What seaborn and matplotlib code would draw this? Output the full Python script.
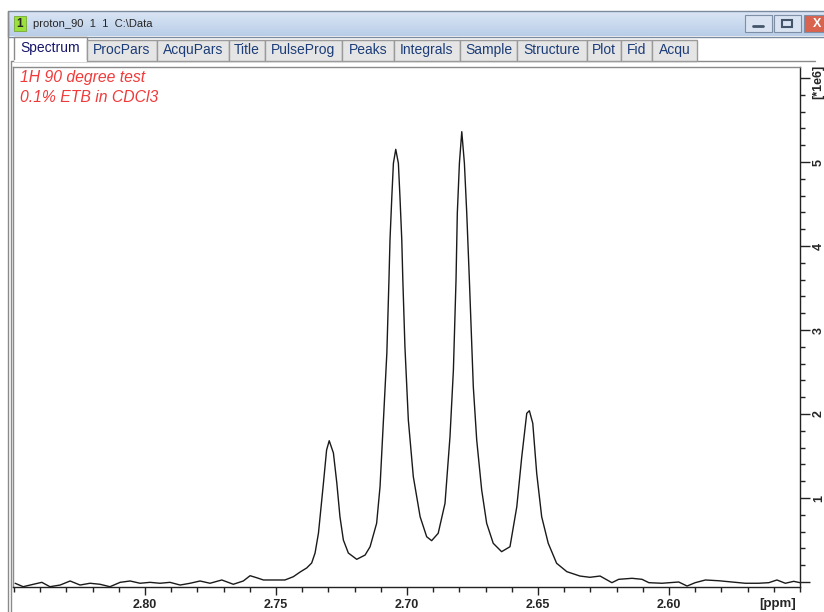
import matplotlib
matplotlib.use("Agg")
import matplotlib.pyplot as plt
from matplotlib.patches import Rectangle
from matplotlib.ticker import MultipleLocator, FixedLocator, FixedFormatter
import numpy as np
import pandas as pd
import seaborn as sns

# spectrum: chemical shift (ppm) and intensity (*1e6)
ppm = [2.8496, 2.8465, 2.8426, 2.8394, 2.8363, 2.8324, 2.8286, 2.8248, 2.8210, 2.8172,
       2.8134, 2.8095, 2.8057, 2.8019, 2.7981, 2.7943, 2.7905, 2.7866, 2.7828, 2.7790,
       2.7752, 2.7707, 2.7663, 2.7625, 2.7599, 2.7574, 2.7548, 2.7497, 2.7466, 2.7434,
       2.7408, 2.7383, 2.7364, 2.7351, 2.7338, 2.7319, 2.7307, 2.7297, 2.7281, 2.7268,
       2.7256, 2.7243, 2.7224, 2.7192, 2.7160, 2.7141, 2.7116, 2.7103, 2.7090, 2.7077,
       2.7069, 2.7065, 2.7058, 2.7052, 2.7043, 2.7033, 2.7027, 2.7020, 2.7016, 2.7008,
       2.6995, 2.6976, 2.6950, 2.6925, 2.6906, 2.6881, 2.6855, 2.6836, 2.6823, 2.6813,
       2.6808, 2.6800, 2.6791, 2.6781, 2.6772, 2.6762, 2.6747, 2.6734, 2.6715, 2.6696,
       2.6671, 2.6639, 2.6607, 2.6581, 2.6562, 2.6543, 2.6533, 2.6520, 2.6505, 2.6486,
       2.6461, 2.6429, 2.6390, 2.6340, 2.6302, 2.6263, 2.6218, 2.6192, 2.6141, 2.6103,
       2.6077, 2.6027, 2.5963, 2.5931, 2.5900, 2.5861, 2.5810, 2.5760, 2.5709, 2.5658,
       2.5619, 2.5588, 2.5556, 2.5524, 2.5500]
intensity = [-0.015, -0.056, -0.027, -0.004, -0.056, -0.036, 0.012, -0.036, -0.015, -0.027,
             -0.056, -0.004, 0.012, -0.015, -0.004, -0.015, -0.004, -0.036, -0.015, 0.012,
             -0.015, 0.024, -0.027, 0.012, 0.075, 0.051, 0.024, 0.024, 0.024, 0.063,
             0.119, 0.167, 0.226, 0.345, 0.583, 1.179, 1.571, 1.682, 1.536, 1.179,
             0.777, 0.500, 0.345, 0.270, 0.321, 0.420, 0.699, 1.135, 1.929, 2.726,
             3.595, 4.071, 4.587, 4.985, 5.151, 4.985, 4.587, 4.071, 3.595, 2.801,
             1.929, 1.254, 0.777, 0.539, 0.492, 0.580, 0.937, 1.730, 2.524, 3.595,
             4.393, 4.988, 5.361, 4.985, 4.389, 3.595, 2.325, 1.690, 1.095, 0.699,
             0.461, 0.361, 0.420, 0.896, 1.492, 2.008, 2.039, 1.889, 1.294, 0.777,
             0.461, 0.223, 0.123, 0.071, 0.056, 0.071, -0.008, 0.032, 0.044, 0.032,
             -0.008, -0.015, 0.000, -0.048, -0.008, 0.024, 0.015, 0.000, -0.015, -0.015,
             -0.008, 0.024, -0.015, 0.008, -0.008]

x_ticks = [2.80, 2.75, 2.70, 2.65, 2.60]
x_tick_labels = ["2.80", "2.75", "2.70", "2.65", "2.60"]
y_ticks = [0, 1, 2, 3, 4, 5, 6]
y_tick_labels = ["", "1", "2", "3", "4", "5", ""]

tab_names = ["Spectrum", "ProcPars", "AcquPars", "Title", "PulseProg", "Peaks",
             "Integrals", "Sample", "Structure", "Plot", "Fid", "Acqu"]
# tab edges in pixels (window chrome layout)
tab_edges = [14, 87, 157, 229, 265, 342, 394, 460, 517, 587, 621, 652, 697]

sns.set_theme(style="white")
plt.rcParams["font.family"] = ["Liberation Sans", "DejaVu Sans"]

W, H = 824, 612
fig = plt.figure(figsize=(W / 100, H / 100), dpi=100)
fig.patch.set_facecolor("white")

# window chrome drawn in pixel coordinates
bg = fig.add_axes([0, 0, 1, 1])
bg.set_xlim(0, W)
bg.set_ylim(H, 0)
bg.axis("off")

grad = np.linspace(0, 1, 50).reshape(-1, 1)
bg.imshow(grad, extent=(8, W, 36, 11), aspect="auto",
          cmap=matplotlib.colors.LinearSegmentedColormap.from_list("tb", ["#dbe6f5", "#b9cde8"]),
          zorder=1)
bg.add_patch(Rectangle((8, 11), W, 26, fill=False, ec="#7a8a9e", lw=1, zorder=2))
bg.add_patch(Rectangle((14, 16), 12, 15, fc="#9be03c", ec="#6aa020", lw=0.5, zorder=3))
bg.text(20, 24, "1", ha="center", va="center", fontsize=8.5, fontweight="bold", zorder=4)
bg.text(33, 24, "proton_90  1  1  C:\\Data", ha="left", va="center", fontsize=8, zorder=4)

# min / restore / close buttons
for bx, fc in [(745, "#d9e3f1"), (774, "#d9e3f1"), (804, "#d8644f")]:
    bg.add_patch(Rectangle((bx, 15), 27, 17, fc=fc, ec="#7d8ea5", lw=0.8, zorder=3))
bg.plot([753, 763], [26, 26], color="#44556b", lw=2, zorder=4)
bg.add_patch(Rectangle((782, 20), 10, 7, fill=False, ec="#44556b", lw=1.5, zorder=4))
bg.text(817, 24, "X", ha="center", va="center", fontsize=9, fontweight="bold", color="white", zorder=4)

# tab row
bg.add_patch(Rectangle((8, 37), W, 25, fc="#ffffff", ec="none", zorder=1))
bg.plot([11, 815], [61, 61], color="#8a8a8a", lw=1, zorder=2)
for i, name in enumerate(tab_names):
    x0, x1 = tab_edges[i], tab_edges[i + 1]
    if i == 0:
        bg.add_patch(Rectangle((x0, 37), x1 - x0, 24, fc="white", ec="#8a8a8a", lw=1, zorder=3))
        bg.plot([x0 + 1, x1 - 1], [61, 61], color="white", lw=1.5, zorder=4)
        bg.text((x0 + x1) / 2, 48, name, ha="center", va="center", fontsize=10,
                color="#16166a", zorder=5)
    else:
        bg.add_patch(Rectangle((x0, 40), x1 - x0, 21, fc="#e5e5e5", ec="#9a9a9a", lw=1, zorder=3))
        bg.text((x0 + x1) / 2, 50, name, ha="center", va="center", fontsize=10,
                color="#1c3d78", zorder=5)

# window left border
bg.plot([8, 8], [11, H], color="#8a8a8a", lw=1)
bg.plot([11, 11], [61, H], color="#8a8a8a", lw=1)

# spectrum axes
ax = fig.add_axes([13 / W, 1 - 587 / H, (800 - 13) / W, (587 - 67) / H])
ax.set_facecolor("white")
df = pd.DataFrame({"ppm": ppm, "intensity": intensity})
sns.lineplot(data=df, x="ppm", y="intensity", estimator=None, sort=False,
             color="#1a1a1a", linewidth=1.0, ax=ax)

ax.set_xlim(2.8504, 2.55)
ax.set_ylim(-0.0595, 6.131)
ax.set_xlabel("")
ax.set_ylabel("")

ax.xaxis.set_major_locator(FixedLocator(x_ticks))
ax.xaxis.set_major_formatter(FixedFormatter(x_tick_labels))
ax.xaxis.set_minor_locator(MultipleLocator(0.01))
ax.yaxis.tick_right()
ax.yaxis.set_major_locator(FixedLocator(y_ticks))
ax.yaxis.set_major_formatter(FixedFormatter(y_tick_labels))
ax.yaxis.set_minor_locator(MultipleLocator(0.2))

ax.tick_params(axis="x", which="major", direction="out", length=5.8, width=1,
               color="#222222", labelsize=9, pad=2.5, bottom=True)
ax.tick_params(axis="x", which="minor", direction="out", length=3.6, width=1,
               color="#222222", bottom=True)
ax.tick_params(axis="y", which="major", direction="out", length=7.2, width=1,
               color="#222222", labelsize=9, pad=2.2, right=True, left=False,
               labelrotation=90)
ax.tick_params(axis="y", which="minor", direction="out", length=3.6, width=1,
               color="#222222", right=True, left=False)
for lab in ax.get_xticklabels() + ax.get_yticklabels():
    lab.set_fontweight("bold")
for lab in ax.get_yticklabels():
    lab.set_va("center")

for side in ["top", "left"]:
    ax.spines[side].set_color("#8a8a8a")
    ax.spines[side].set_linewidth(1)
for side in ["bottom", "right"]:
    ax.spines[side].set_color("#222222")
    ax.spines[side].set_linewidth(1)

ax.text(7 / 787, 1 - 3 / 520, "1H 90 degree test", transform=ax.transAxes, ha="left", va="top",
        fontsize=11.3, style="italic", color="#f03a3a")
ax.text(7 / 787, 1 - 23 / 520, "0.1% ETB in CDCl3", transform=ax.transAxes, ha="left", va="top",
        fontsize=11.3, style="italic", color="#f03a3a")

fig.text(778 / W, 1 - 604 / H, "[ppm]", ha="center", va="center", fontsize=9.5,
         fontweight="bold")
fig.text(818 / W, 1 - 82 / H, "[*1e6]", ha="center", va="center", fontsize=9,
         fontweight="bold", rotation=90)

fig.savefig("out.png", dpi=100)
